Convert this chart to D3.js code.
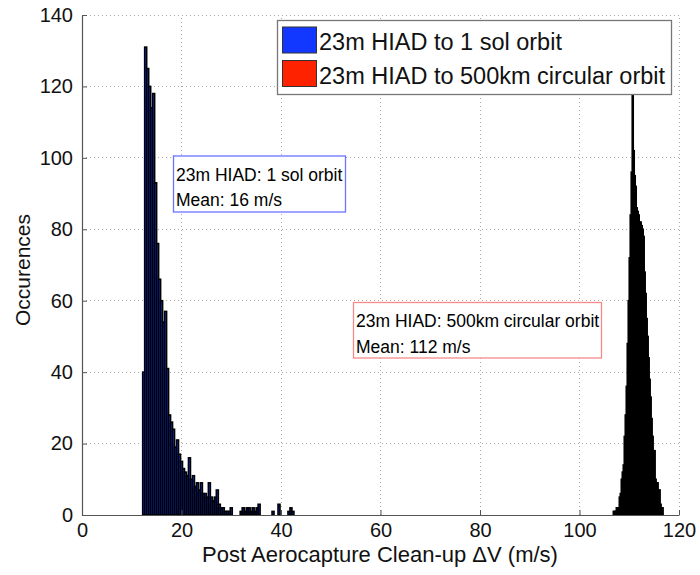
<!DOCTYPE html>
<html>
<head>
<meta charset="utf-8">
<script src="https://cdn.jsdelivr.net/npm/d3@7/dist/d3.min.js"></script>
<style>
  html, body { margin: 0; padding: 0; background: #fff; }
  svg { display: block; font-family: "Liberation Sans", Arial, Helvetica, sans-serif; }
</style>
</head>
<body>
<svg id="chart" width="700" height="575"></svg>
<script>
// ---- Data ----
const seriesNames = ["23m HIAD to 1 sol orbit", "23m HIAD to 500km circular orbit"];
const seriesColors = ["#1238ff", "#ff2200"];

// 1 sol orbit histogram: bins of 0.4 m/s starting at 12.2 m/s
const solStart = 12.2;
const solBinWidth = 0.4;
const solCounts = [
  40, 131, 125, 120, 114, 118, 93, 76, 66, 60,
  54, 57, 41, 28, 26, 24, 19, 21, 17, 15,
  13, 12, 11, 16, 10, 11, 8, 9, 7, 9,
  6, 6, 5, 9, 5, 4, 5, 7, 3, 2,
  2, 1, 1, 1, 2, 0, 0, 0, 0, 1,
  2, 1, 2, 2, 1, 2, 1, 2, 3, 0,
  0, 0, 0, 0, 0, 1, 0, 0, 3, 0,
  0, 0, 0, 1, 2, 1
];

// 500 km circular orbit histogram: bins of 0.2 m/s starting at 106.8 m/s
const circStart = 106.8;
const circBinWidth = 0.2;
const circCounts = [
  1, 1, 1, 2, 1, 2, 5, 6, 10, 12,
  14, 22, 28, 36, 48, 60, 72, 84, 96, 118,
  102, 95, 92, 86, 85, 84, 82, 82, 81, 80,
  78, 68, 62, 55, 50, 44, 38, 33, 27, 22,
  18, 18, 10, 9, 9, 7, 7, 3, 2, 2
];

const xTicks = [0, 20, 40, 60, 80, 100, 120];
const yTicks = [0, 20, 40, 60, 80, 100, 120, 140];

const annotations = [
  { lines: ["23m HIAD: 1 sol orbit", "Mean: 16 m/s"], color: "#6a74ff" },
  { lines: ["23m HIAD: 500km circular orbit", "Mean: 112 m/s"], color: "#f48a8a" }
];

const xLabel = "Post Aerocapture Clean-up \u0394V (m/s)";
const yLabel = "Occurences";

// ---- Layout ----
const L = 82, R = 679, T = 15, B = 515;
const svg = d3.select("#chart");
const x = d3.scaleLinear().domain([0, 120]).range([L, R]);
const y = d3.scaleLinear().domain([0, 140]).range([B, T]);

// grid
const grid = svg.append("g").attr("stroke", "#a8a8a8").attr("stroke-width", 1)
  .attr("stroke-dasharray", "1,3").attr("shape-rendering", "crispEdges");
xTicks.filter(d => d > 0).forEach(d => {
  grid.append("line").attr("x1", x(d)).attr("x2", x(d)).attr("y1", B).attr("y2", T);
});
yTicks.filter(d => d > 0).forEach(d => {
  grid.append("line").attr("x1", L).attr("x2", R).attr("y1", y(d)).attr("y2", y(d));
});

// bars
function binsOf(start, w, counts) {
  return counts.map((c, i) => ({ x0: start + i * w, x1: start + (i + 1) * w, c }));
}
const groups = [
  binsOf(solStart, solBinWidth, solCounts),
  binsOf(circStart, circBinWidth, circCounts)
];
groups.forEach((bins, gi) => {
  svg.append("g").selectAll("rect").data(bins.filter(b => b.c > 0)).join("rect")
    .attr("x", b => x(b.x0))
    .attr("width", b => x(b.x1) - x(b.x0))
    .attr("y", b => y(b.c))
    .attr("height", b => y(0) - y(b.c))
    .attr("fill", seriesColors[gi])
    .attr("stroke", "#000")
    .attr("stroke-width", 1.6);
});

// axes
const xAxis = d3.axisBottom(x).tickValues(xTicks).tickSize(-5).tickPadding(8).tickSizeOuter(0);
const yAxis = d3.axisLeft(y).tickValues(yTicks).tickSize(-5).tickPadding(9).tickSizeOuter(0);
const gx = svg.append("g").attr("transform", `translate(0,${B})`).call(xAxis);
const gy = svg.append("g").attr("transform", `translate(${L},0)`).call(yAxis);
[gx, gy].forEach(g => {
  g.select(".domain").attr("stroke", "#555").attr("stroke-width", 1.2);
  g.selectAll(".tick line").attr("stroke", "#555");
  g.selectAll(".tick text").attr("fill", "#111").attr("font-size", 20)
    .attr("font-family", "'Liberation Sans', Arial, sans-serif");
});

// axis labels
svg.append("text").attr("x", 380).attr("y", 562).attr("text-anchor", "middle")
  .attr("font-size", 22).attr("fill", "#111").text(xLabel);
svg.append("text").attr("transform", `translate(30,${(T + B) / 2 + 5}) rotate(-90)`)
  .attr("text-anchor", "middle").attr("font-size", 21).attr("fill", "#111").text(yLabel);

// annotation boxes
const annPos = [
  { x0: 173.5, y0: 156, x1: 345.5, y1: 212, tx: 176, b1: 181, b2: 206 },
  { x0: 353.5, y0: 302.5, x1: 601.5, y1: 358, tx: 356, b1: 327, b2: 352.5 }
];
annotations.forEach((a, i) => {
  const p = annPos[i];
  const g = svg.append("g");
  g.append("rect").attr("x", p.x0).attr("y", p.y0).attr("width", p.x1 - p.x0).attr("height", p.y1 - p.y0)
    .attr("fill", "#fff").attr("stroke", a.color).attr("stroke-width", 1.3);
  g.append("text").attr("x", p.tx).attr("y", p.b1).attr("font-size", 17.5).attr("fill", "#000").text(a.lines[0]);
  g.append("text").attr("x", p.tx).attr("y", p.b2).attr("font-size", 17.5).attr("fill", "#000").text(a.lines[1]);
});

// legend
const lg = svg.append("g");
lg.append("rect").attr("x", 277.5).attr("y", 20.5).attr("width", 394).attr("height", 74)
  .attr("fill", "#fff").attr("stroke", "#777").attr("stroke-width", 1.3);
seriesNames.forEach((n, i) => {
  const yy = 27 + i * 33.5;
  lg.append("rect").attr("x", 282.5).attr("y", yy).attr("width", 34).attr("height", 26)
    .attr("fill", seriesColors[i]).attr("stroke", "#333").attr("stroke-width", 1);
  lg.append("text").attr("x", 319).attr("y", yy + 23).attr("font-size", 23.5).attr("fill", "#111").text(n);
});
</script>
</body>
</html>
